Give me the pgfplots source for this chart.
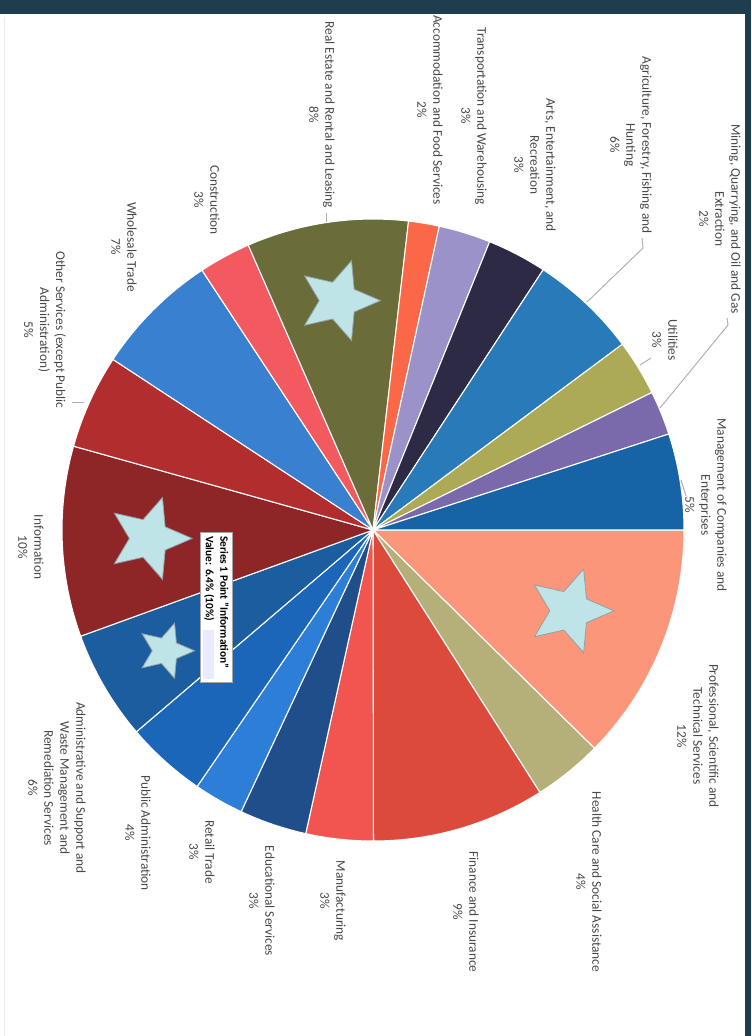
\documentclass[border=0pt]{standalone}
\usepackage{pgfplots}
\pgfplotsset{compat=1.18}
\usepackage{pgfplotstable}
\usepackage{fontspec}
\setmainfont{Carlito}

\definecolor{navy}{RGB}{30,62,80}
\definecolor{lblgray}{RGB}{72,72,72}
\definecolor{leader}{RGB}{170,172,190}
\definecolor{starc}{RGB}{190,228,232}
\definecolor{stargray}{RGB}{150,160,165}
\definecolor{c0}{RGB}{252,150,122}
\definecolor{c1}{RGB}{181,176,122}
\definecolor{c2}{RGB}{220,74,60}
\definecolor{c3}{RGB}{242,84,80}
\definecolor{c4}{RGB}{31,78,138}
\definecolor{c5}{RGB}{44,126,214}
\definecolor{c6}{RGB}{28,102,185}
\definecolor{c7}{RGB}{27,93,158}
\definecolor{c8}{RGB}{142,38,40}
\definecolor{c9}{RGB}{178,46,46}
\definecolor{c10}{RGB}{58,128,208}
\definecolor{c11}{RGB}{242,90,96}
\definecolor{c12}{RGB}{106,108,58}
\definecolor{c13}{RGB}{250,104,72}
\definecolor{c14}{RGB}{156,146,202}
\definecolor{c15}{RGB}{44,42,68}
\definecolor{c16}{RGB}{40,122,184}
\definecolor{c17}{RGB}{172,170,86}
\definecolor{c18}{RGB}{122,106,172}
\definecolor{c19}{RGB}{22,100,165}

\tikzset{lbl/.style={rotate=-90, align=center, text=lblgray, inner sep=0pt,
    font=\fontsize{10}{12}\selectfont}}

% share of each industry (clockwise from the right), star size and star distance (px)
\pgfplotstableread[col sep=semicolon]{
value;star;srad
12.4;44;213
3.6;0;0
9.0;0;0
3.5;0;0
3.5;0;0
2.6;0;0
4.2;0;0
5.7;29;240
9.9;43;224
4.9;0;0
6.5;0;0
2.7;0;0
8.4;42;232
1.6;0;0
2.7;0;0
3.1;0;0
5.6;0;0
2.9;0;0
2.3;0;0
5.0;0;0
}\piedata

\begin{document}
\begin{tikzpicture}
\gdef\total{0}
\pgfplotstableforeachcolumnelement{value}\of\piedata\as\v{%
  \pgfmathsetmacro\t{\total+\v}\xdef\total{\t}}
\gdef\piecmds{}
\gdef\starcmds{}
\gdef\cum{0}
\foreach \i in {0,...,19}{%
  \pgfplotstablegetelem{\i}{value}\of\piedata \let\v=\pgfplotsretval
  \pgfplotstablegetelem{\i}{star}\of\piedata \let\s=\pgfplotsretval
  \pgfplotstablegetelem{\i}{srad}\of\piedata \let\sr=\pgfplotsretval
  \pgfmathsetmacro\a{-\cum/\total*360}
  \pgfmathsetmacro\newcum{\cum+\v}
  \pgfmathsetmacro\b{-\newcum/\total*360}
  \pgfmathsetmacro\m{(\a+\b)/2}
  \xdef\cum{\newcum}
  \xdef\piecmds{\unexpanded\expandafter{\piecmds}%
    \noexpand\fill[c\i, draw=white, line width=0.8pt] (axis cs:373,530) -- ++(\a:233.25pt)
      arc[start angle=\a, end angle=\b, radius=233.25pt] -- cycle;}
  \ifdim\s pt>0pt
    \pgfmathsetmacro\srpt{\sr*0.75}
    \pgfmathsetmacro\Ro{\s*0.75}
    \pgfmathsetmacro\Ri{\s*0.75*0.46}
    \xdef\starcmds{\unexpanded\expandafter{\starcmds}%
      \noexpand\fill[starc, draw=stargray, line width=0.6pt, line join=miter]
        (axis cs:373,530) ++(\m:\srpt pt)
        +(0:\Ro pt) -- +(36:\Ri pt) -- +(72:\Ro pt) -- +(108:\Ri pt)
        -- +(144:\Ro pt) -- +(180:\Ri pt) -- +(216:\Ro pt) -- +(252:\Ri pt)
        -- +(288:\Ro pt) -- +(324:\Ri pt) -- cycle;}
  \fi
}
\path[use as bounding box] (0,0) rectangle (563.25pt,-777pt);
\fill[navy] (0,0) rectangle (563.25pt,-777pt);
\fill[white] (0,-10.5pt) rectangle (558.75pt,-777pt);
\draw[gray!15, line width=1.2pt] (3.5pt,-13pt) -- (3.5pt,-777pt);
\begin{axis}[
  at={(0,0)}, anchor=north west,
  x=0.75pt, y=0.75pt, y dir=reverse,
  xmin=0, xmax=751, ymin=0, ymax=1036,
  hide axis, clip=false,
]
\piecmds
\starcmds
% leader lines
\draw[leader, line width=0.7pt] (axis cs:727,318) -- (axis cs:728,325) -- (axis cs:660,408);
\draw[leader, line width=0.7pt] (axis cs:651,358) -- (axis cs:640,365);
\draw[leader, line width=0.7pt] (axis cs:681,480) -- (axis cs:686,496);
\draw[leader, line width=0.7pt] (axis cs:642,238) -- (axis cs:643,248) -- (axis cs:587,302);
\draw[leader, line width=0.7pt] (axis cs:326,213) -- (axis cs:326,222);
\draw[leader, line width=0.7pt] (axis cs:72,402) -- (axis cs:84,402);
% labels
\node[lbl] at (axis cs:706,505) {Management of Companies and\\Enterprises\\5\%};
\node[lbl] at (axis cs:698,736) {Professional, Scientific and\\Technical Services\\12\%};
\node[lbl] at (axis cs:589,882) {Health Care and Social Assistance\\4\%};
\node[lbl] at (axis cs:466,912) {Finance and Insurance\\9\%};
\node[lbl] at (axis cs:333,901) {Manufacturing\\3\%};
\node[lbl] at (axis cs:262,901) {Educational Services\\3\%};
\node[lbl] at (axis cs:202,852) {Retail Trade\\3\%};
\node[lbl] at (axis cs:138,833) {Public Administration\\4\%};
\node[lbl] at (axis cs:57,788) {Administrative and Support and\\Waste Management and\\Remediation Services\\6\%};
\node[lbl] at (axis cs:31,547) {Information\\10\%};
\node[lbl] at (axis cs:45,330) {Other Services (except Public\\Administration)\\5\%};
\node[lbl] at (axis cs:124,247) {Wholesale Trade\\7\%};
\node[lbl] at (axis cs:207,200) {Construction\\3\%};
\node[lbl] at (axis cs:322,115) {Real Estate and Rental and Leasing\\8\%};
\node[lbl] at (axis cs:430,110) {Accommodation and Food Services\\2\%};
\node[lbl] at (axis cs:474,116) {Transportation and Warehousing\\3\%};
\node[lbl] at (axis cs:535,165) {Arts, Entertainment, and\\Recreation\\3\%};
\node[lbl] at (axis cs:631,145) {Agriculture, Forestry, Fishing and\\Hunting\\6\%};
\node[lbl] at (axis cs:665,340) {Utilities\\3\%};
\node[lbl] at (axis cs:720,219) {Mining, Quarrying, and Oil and Gas\\Extraction\\2\%};
% tooltip
\draw[fill=white, draw=gray!70, line width=0.6pt] (axis cs:200,532) rectangle (axis cs:232,682);
\fill[blue!8] (axis cs:203,630) rectangle (axis cs:214,679);
\node[rotate=-90, anchor=north west, align=left, inner sep=0pt, text=black,
  font=\fontsize{8.5}{11}\selectfont\bfseries] at (axis cs:229,536)
  {Series 1 Point "Information"\\Value: 6.4\% (10\%)};
\end{axis}
\end{tikzpicture}
\end{document}
